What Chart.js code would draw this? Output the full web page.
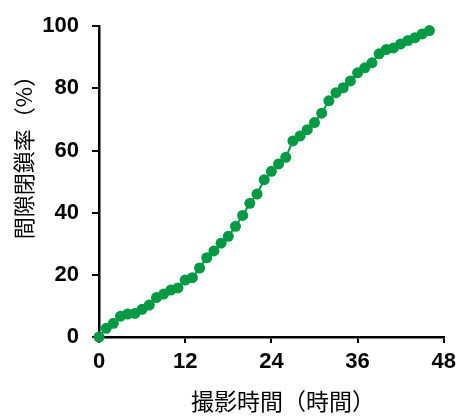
<!DOCTYPE html>
<html>
<head>
<meta charset="utf-8">
<script src="https://cdn.jsdelivr.net/npm/chart.js@4/dist/chart.umd.min.js"></script>
<style>
  html, body { margin: 0; padding: 0; background: #fff; }
  #wrap { width: 462px; height: 417px; }
</style>
</head>
<body>
<div id="wrap"><canvas id="closureChart"></canvas></div>
<script>
// imaging time (hours) and gap closure rate (%)
const hours = [0,1,2,3,4,5,6,7,8,9,10,11,12,13,14,15,16,17,18,19,20,21,22,23,24,25,26,27,28,29,30,31,32,33,34,35,36,37,38,39,40,41,42,43,44,45,46];
const closure = [0,2.8,4.4,6.7,7.4,7.6,8.9,10.3,12.7,13.8,15.1,15.8,18.3,19.1,22.2,25.5,27.7,30.2,32.4,35.6,39.1,43.0,46.0,50.6,53.3,55.7,57.8,63.1,64.7,66.7,69.0,72.0,76.0,78.6,80.2,82.4,85.0,86.6,88.2,91.1,92.5,93.0,94.3,95.4,96.3,97.5,98.6];
const xTicks = [0, 12, 24, 36, 48];
const yTicks = [0, 20, 40, 60, 80, 100];
const xTitle = "撮影時間（時間）";
const yTitle = "間隙閉鎖率（%）";

const green = "#009944";
const tickFont = { family: "'Liberation Sans', Arial, sans-serif", size: 22, weight: "bold" };
const cjkFont = "'Noto Sans CJK JP', sans-serif";

// axis titles drawn by hand so they sit where the original has them
const titlePlugin = {
    id: "titles",
    afterDraw(chart) {
        const c = chart.ctx;
        c.save();
        c.fillStyle = "#000";
        c.textAlign = "center";
        c.textBaseline = "middle";
        c.font = "23px " + cjkFont;
        c.fillText(xTitle, 283, 401);
        c.translate(24, 152);
        c.rotate(-Math.PI / 2);
        c.font = "22px " + cjkFont;
        c.fillText(yTitle, 0, 0);
        c.restore();
    }
};

new Chart(document.getElementById("closureChart"), {
    type: "line",
    data: {
        datasets: [{
            data: hours.map((h, i) => ({ x: h, y: closure[i] })),
            borderColor: green,
            backgroundColor: green,
            borderWidth: 2,
            pointRadius: 5.5,
            pointBorderWidth: 0,
            pointBackgroundColor: green,
            tension: 0,
            clip: false
        }]
    },
    options: {
        responsive: true,
        maintainAspectRatio: false,
        animation: false,
        layout: { padding: { left: 0, top: 25, right: 14, bottom: 0 } },
        plugins: { legend: { display: false }, tooltip: { enabled: false } },
        scales: {
            x: {
                type: "linear",
                min: 0, max: 48,
                afterBuildTicks: s => { s.ticks = xTicks.map(v => ({ value: v })); },
                afterFit: s => { s.height = 80; },
                grid: { display: true, drawOnChartArea: false, drawTicks: true, tickLength: 6, color: "#000", lineWidth: 2 },
                border: { display: true, color: "#000", width: 2.5 },
                ticks: { color: "#000", font: tickFont, padding: 6, maxRotation: 0 }
            },
            y: {
                min: 0, max: 100,
                afterBuildTicks: s => { s.ticks = yTicks.map(v => ({ value: v })); },
                afterFit: s => { s.width = 99; },
                grid: { display: true, drawOnChartArea: false, drawTicks: true, tickLength: 7, color: "#000", lineWidth: 2 },
                border: { display: true, color: "#000", width: 2.5 },
                ticks: { color: "#000", font: tickFont, padding: 13 }
            }
        }
    },
    plugins: [titlePlugin]
});
</script>
</body>
</html>
